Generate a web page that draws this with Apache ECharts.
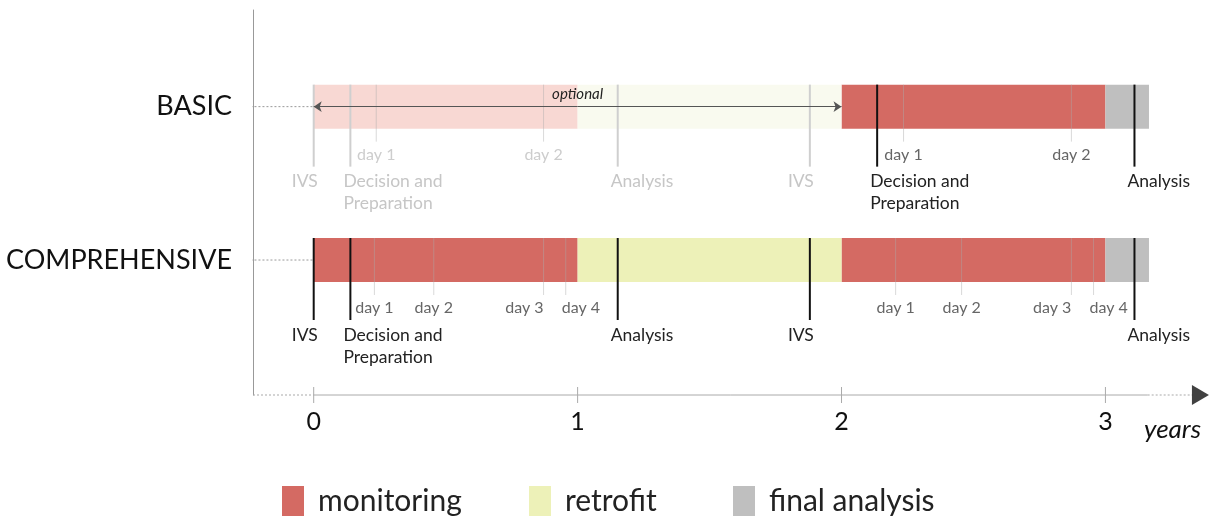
<!DOCTYPE html>
<html>
<head>
<meta charset="utf-8">
<script src="https://cdn.jsdelivr.net/npm/echarts@6/dist/echarts.min.js"></script>
<style>
  html, body { margin: 0; padding: 0; background: #fff; }
  #chart { width: 1221px; height: 516px; }
</style>
</head>
<body>
<div id="chart"></div>
<script>
// rows: y = 1 comprehensive, y = 2 basic
const rowNames = ['COMPREHENSIVE', 'BASIC'];
const yearTicks = [0, 1, 2, 3];

// phases (years)
const phaseName = ['monitoring', 'retrofit', 'monitoring', 'final analysis'];
const phaseStart = [0, 1, 2, 3];
const phaseEnd = [1, 2, 3, 3.165];
const basicPhaseOptional = [1, 1, 0, 0];

// events
const compEventX = [0, 0.139, 1.152, 1.88, 3.11];
const compEventText = ['IVS', 'Decision and\nPreparation', 'Analysis', 'IVS', 'Analysis'];
const basicEventX = [0, 0.139, 1.152, 1.88, 2.135, 3.11];
const basicEventText = ['IVS', 'Decision and\nPreparation', 'Analysis', 'IVS', 'Decision and\nPreparation', 'Analysis'];
const basicEventOptional = [1, 1, 1, 1, 0, 0];

// measurement days
const compDayX = [0.23, 0.455, 0.871, 0.955, 2.205, 2.455, 2.871, 2.955];
const compDayText = ['day 1', 'day 2', 'day 3', 'day 4', 'day 1', 'day 2', 'day 3', 'day 4'];
const basicDayX = [0.237, 0.871, 2.235, 2.871];
const basicDayText = ['day 1', 'day 2', 'day 1', 'day 2'];
const basicDayOptional = [1, 1, 0, 0];

const legendNames = ['monitoring', 'retrofit', 'final analysis'];

const FONT = 'Lato';
const colors = {
  'monitoring': ['#d46a63', '#f8d8d3'],
  'retrofit': ['#edf1b8', '#f9faef'],
  'final analysis': ['#bfbfbf', '#e6e6e6']
};
const Y_MIN = 0.12;

const chart = echarts.init(document.getElementById('chart'));

// bars
function barSeries(name) {
  const data = [];
  phaseName.forEach((n, i) => {
    if (n !== name) return;
    data.push([phaseStart[i], phaseEnd[i], 2, basicPhaseOptional[i]]);
    data.push([phaseStart[i], phaseEnd[i], 1, 0]);
  });
  return {
    name: name,
    type: 'custom',
    z: 1,
    itemStyle: { color: colors[name][0] },
    encode: { x: [0, 1], y: 2 },
    data: data,
    renderItem: function (params, api) {
      const a = api.coord([api.value(0), api.value(2)]);
      const b = api.coord([api.value(1), api.value(2)]);
      const h = 44;
      return {
        type: 'rect',
        shape: { x: a[0], y: a[1] - h / 2, width: b[0] - a[0], height: h },
        style: { fill: api.value(3) ? colors[name][1] : colors[name][0] }
      };
    }
  };
}

function eventSeries(xs, texts, row, optional) {
  return {
    type: 'custom',
    z: 3,
    silent: true,
    clip: false,
    encode: { x: 0, y: 1 },
    data: xs.map((x, i) => [x, row, optional ? optional[i] : 0]),
    renderItem: function (params, api) {
      const p = api.coord([api.value(0), api.value(1)]);
      const faded = api.value(2) === 1;
      const text = texts[params.dataIndex];
      const ivs = text === 'IVS';
      return {
        type: 'group',
        children: [{
          type: 'line',
          shape: { x1: p[0], y1: p[1] - 22, x2: p[0], y2: p[1] + 60 },
          style: { stroke: faded ? '#cfcfcf' : '#111', lineWidth: 2 }
        }, {
          type: 'text',
          x: ivs ? p[0] + 4 : p[0] - 7,
          y: p[1] + 64,
          style: {
            text: text,
            fill: faded ? '#c6c6c6' : '#222',
            font: '17.5px ' + FONT,
            align: ivs ? 'right' : 'left',
            verticalAlign: 'top',
            lineHeight: 22
          }
        }]
      };
    }
  };
}

function daySeries(xs, texts, row, optional) {
  return {
    type: 'custom',
    z: 2,
    silent: true,
    encode: { x: 0, y: 1 },
    data: xs.map((x, i) => [x, row, optional ? optional[i] : 0]),
    renderItem: function (params, api) {
      const i = params.dataIndex;
      const p = api.coord([api.value(0), api.value(1)]);
      const faded = api.value(2) === 1;
      // keep close labels apart
      let align = 'center';
      let dx = 0;
      if (i < xs.length - 1 && xs[i + 1] - xs[i] < 0.15) align = 'right';
      if (i > 0 && xs[i] - xs[i - 1] < 0.15) { align = 'left'; dx = -4; }
      return {
        type: 'group',
        children: [{
          type: 'line',
          shape: { x1: p[0], y1: p[1] - 22, x2: p[0], y2: p[1] + 35 },
          style: { stroke: 'rgba(170,170,170,0.45)', lineWidth: 1 }
        }, {
          type: 'text',
          x: p[0] + dx,
          y: p[1] + 48,
          style: {
            text: texts[i],
            fill: faded ? '#cdcdcd' : '#666',
            font: '16px ' + FONT,
            align: align,
            verticalAlign: 'middle'
          }
        }]
      };
    }
  };
}

function plainLine(data, dashed, color) {
  return {
    type: 'line',
    data: data,
    symbol: 'none',
    silent: true,
    clip: false,
    z: 0,
    lineStyle: { color: color, width: 1, type: dashed ? [2, 2] : 'solid' }
  };
}

const series = [];
legendNames.forEach(n => series.push(barSeries(n)));
series.push(daySeries(compDayX, compDayText, 1));
series.push(daySeries(basicDayX, basicDayText, 2, basicDayOptional));
series.push(eventSeries(compEventX, compEventText, 1));
series.push(eventSeries(basicEventX, basicEventText, 2, basicEventOptional));

// row leaders
[1, 2].forEach(r => series.push(plainLine([[-0.27, r], [0, r]], true, '#999')));

// x axis line with arrow
series.push(plainLine([[-0.23, Y_MIN], [0, Y_MIN]], true, '#aaa'));
series.push(plainLine([[0, Y_MIN], [3.16, Y_MIN]], false, '#aaa'));
series.push(plainLine([[3.16, Y_MIN], [3.33, Y_MIN]], true, '#aaa'));
series.push({
  type: 'custom',
  silent: true,
  clip: false,
  z: 2,
  encode: { x: 0, y: 1 },
  data: yearTicks.map(t => [t, Y_MIN]),
  renderItem: function (params, api) {
    const p = api.coord([api.value(0), api.value(1)]);
    return {
      type: 'line',
      shape: { x1: p[0], y1: p[1] - 8, x2: p[0], y2: p[1] + 8 },
      style: { stroke: '#aaa', lineWidth: 1 }
    };
  }
});
series.push({
  type: 'scatter',
  data: [[3.36, Y_MIN]],
  symbol: 'triangle',
  symbolRotate: -90,
  symbolSize: [20, 17],
  itemStyle: { color: '#111' },
  silent: true,
  clip: false,
  z: 5
});

// optional arrow on basic
series.push({
  type: 'line',
  data: [],
  silent: true,
  markLine: {
    silent: true,
    symbol: ['arrow', 'arrow'],
    symbolSize: 8,
    z: 4,
    lineStyle: { color: '#555', width: 1, type: 'solid' },
    label: {
      show: true,
      position: 'middle',
      formatter: 'optional',
      fontStyle: 'italic',
      fontSize: 15,
      color: '#222',
      fontFamily: FONT
    },
    data: [[{ coord: [0, 2] }, { coord: [2, 2] }]]
  }
});

const legendLeft = [282, 529, 733];

const option = {
  animation: false,
  backgroundColor: '#fff',
  textStyle: { fontFamily: FONT },
  grid: { left: 253, right: 10, top: 10, bottom: 121 },
  xAxis: {
    type: 'value',
    min: -0.23,
    max: 3.4,
    axisLine: { show: false },
    splitLine: { show: false },
    axisTick: { show: false },
    axisLabel: {
      customValues: yearTicks,
      fontSize: 25,
      color: '#111',
      margin: 14
    }
  },
  yAxis: {
    type: 'value',
    min: Y_MIN,
    max: 2.63,
    axisLine: { show: true, onZero: false, lineStyle: { color: '#999' } },
    axisTick: { show: false },
    splitLine: { show: false },
    axisLabel: {
      customValues: [1, 2],
      formatter: v => rowNames[Math.round(v) - 1],
      fontSize: 27,
      color: '#111',
      margin: 21
    }
  },
  legend: legendNames.map((n, i) => ({
    data: [n],
    left: legendLeft[i],
    top: 486,
    padding: 0,
    icon: 'rect',
    itemWidth: 22,
    itemHeight: 30,
    selectedMode: false,
    textStyle: { fontSize: 30, color: '#222', padding: [0, 0, 0, 9], fontFamily: FONT }
  })),
  graphic: [{
    type: 'text',
    x: 1144,
    y: 430,
    style: {
      text: 'years',
      font: 'italic 26px ' + FONT,
      fill: '#111',
      verticalAlign: 'middle'
    }
  }],
  series: series
};

chart.setOption(option);
</script>
</body>
</html>
